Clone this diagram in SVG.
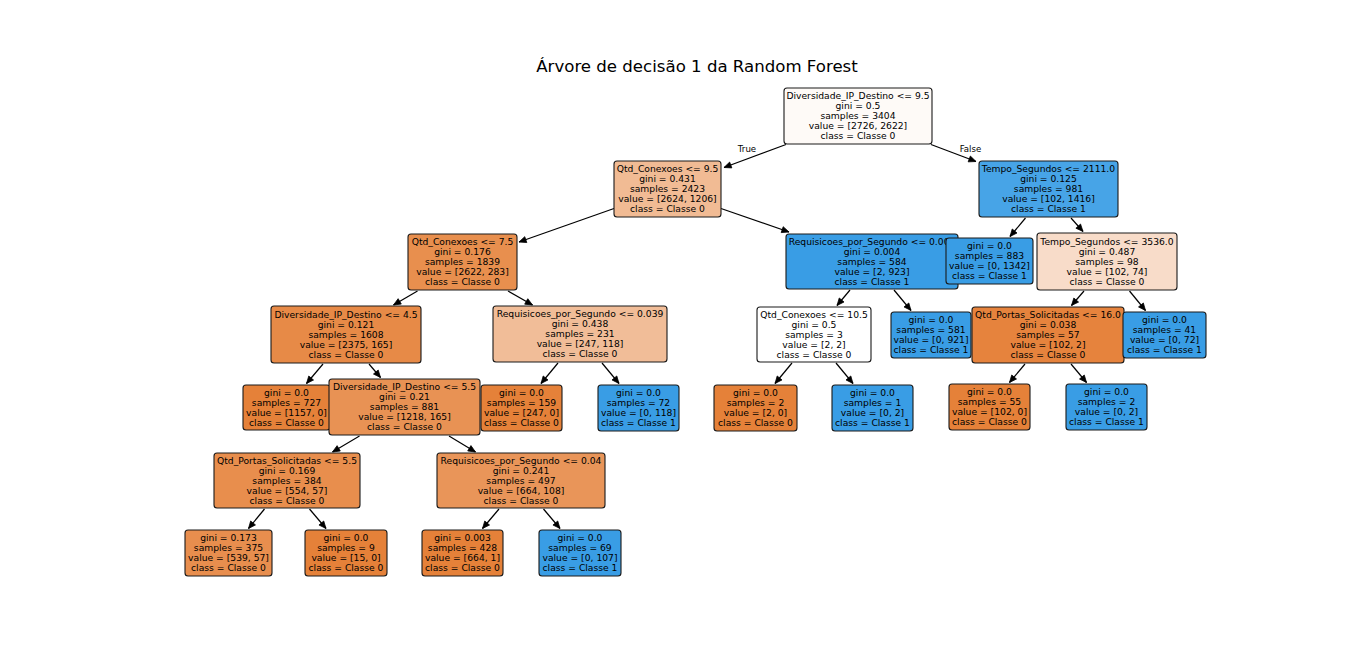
<svg xmlns="http://www.w3.org/2000/svg" width="1360" height="663" viewBox="0 0 1360 663">
<style>
.bg{fill:#ffffff}
.n rect{stroke:#1a1a1a;stroke-width:1.1}
.n text{font-family:"DejaVu Sans",sans-serif;font-size:9.2px;fill:#000;text-anchor:middle}
.e line{stroke:#000;stroke-width:1.2;marker-end:url(#ah)}
.lbl{font-family:"DejaVu Sans",sans-serif;font-size:8.6px;fill:#000;text-anchor:middle}
.title{font-family:"DejaVu Sans",sans-serif;font-size:16.6px;fill:#000;text-anchor:middle}
.o{fill:#e58139}.b{fill:#399de5}
</style>
<defs>
<marker id="ah" markerUnits="userSpaceOnUse" markerWidth="12" markerHeight="12" viewBox="-8 -5 10 10" refX="0" refY="0" orient="auto">
<path d="M-6,-2.6 L0,0 L-6,2.6 Z" fill="#000" stroke="#000" stroke-width="0.6" stroke-linejoin="miter"/>
</marker>
</defs>
<rect class="bg" x="0" y="0" width="1360" height="663"/>
<text class="title" x="697" y="71.5">Árvore de decisão 1 da Random Forest</text>
<g id="connectors" class="e">
<line x1="786" y1="144.5" x2="724" y2="167.5"/>
<line x1="931" y1="144.5" x2="976" y2="161.5"/>
<line x1="614" y1="208.5" x2="519" y2="242"/>
<line x1="721" y1="208.5" x2="789" y2="232"/>
<line x1="1025.5" y1="218" x2="1010" y2="236.5"/>
<line x1="1071" y1="218" x2="1083" y2="231.5"/>
<line x1="417.5" y1="291" x2="393.5" y2="305"/>
<line x1="508" y1="291" x2="532.5" y2="305"/>
<line x1="850" y1="290" x2="837" y2="305.5"/>
<line x1="894" y1="290" x2="911" y2="310.5"/>
<line x1="1084" y1="291" x2="1071.5" y2="305.5"/>
<line x1="1129.5" y1="291" x2="1145.5" y2="310.5"/>
<line x1="323" y1="364" x2="306.5" y2="383.5"/>
<line x1="369" y1="364" x2="380.5" y2="377.5"/>
<line x1="558" y1="363" x2="541" y2="383.5"/>
<line x1="602" y1="363" x2="619" y2="383.5"/>
<line x1="792" y1="363" x2="775" y2="383.5"/>
<line x1="836" y1="363" x2="853" y2="383.5"/>
<line x1="1025" y1="364" x2="1009.5" y2="382.5"/>
<line x1="1071" y1="364" x2="1086.5" y2="382.5"/>
<line x1="359.5" y1="436" x2="332.5" y2="452"/>
<line x1="449" y1="436" x2="475.5" y2="452"/>
<line x1="264.5" y1="509" x2="248.5" y2="528.5"/>
<line x1="309.5" y1="509" x2="326" y2="528.5"/>
<line x1="499" y1="509" x2="482.5" y2="528.5"/>
<line x1="543.5" y1="509" x2="560" y2="528.5"/>
</g>
<text class="lbl" x="747" y="152">True</text>
<text class="lbl" x="970.5" y="152">False</text>
<g id="n1" class="n"><rect x="784" y="88" width="148" height="56" rx="3" fill="#fefaf7"/><text><tspan x="858" y="99">Diversidade_IP_Destino &lt;= 9.5</tspan><tspan x="858" y="109">gini = 0.5</tspan><tspan x="858" y="119">samples = 3404</tspan><tspan x="858" y="129">value = [2726, 2622]</tspan><tspan x="858" y="139">class = Classe 0</tspan></text></g>
<g id="n2" class="n"><rect x="614" y="161" width="107" height="56" rx="3" fill="#f1bb94"/><text><tspan x="667.5" y="172">Qtd_Conexoes &lt;= 9.5</tspan><tspan x="667.5" y="182">gini = 0.431</tspan><tspan x="667.5" y="192">samples = 2423</tspan><tspan x="667.5" y="202">value = [2624, 1206]</tspan><tspan x="667.5" y="212">class = Classe 0</tspan></text></g>
<g id="n4" class="n"><rect x="408" y="234" width="109" height="56" rx="3" fill="#e88f4e"/><text><tspan x="462.5" y="245">Qtd_Conexoes &lt;= 7.5</tspan><tspan x="462.5" y="255">gini = 0.176</tspan><tspan x="462.5" y="265">samples = 1839</tspan><tspan x="462.5" y="275">value = [2622, 283]</tspan><tspan x="462.5" y="285">class = Classe 0</tspan></text></g>
<g id="n8" class="n"><rect x="271" y="306" width="150" height="57" rx="3" fill="#e78a47"/><text><tspan x="346" y="317.5">Diversidade_IP_Destino &lt;= 4.5</tspan><tspan x="346" y="327.5">gini = 0.121</tspan><tspan x="346" y="337.5">samples = 1608</tspan><tspan x="346" y="347.5">value = [2375, 165]</tspan><tspan x="346" y="357.5">class = Classe 0</tspan></text></g>
<g id="n14" class="n"><rect x="243" y="385" width="87" height="45" rx="3" class="o"/><text><tspan x="286.5" y="395.8">gini = 0.0</tspan><tspan x="286.5" y="405.8">samples = 727</tspan><tspan x="286.5" y="415.8">value = [1157, 0]</tspan><tspan x="286.5" y="425.8">class = Classe 0</tspan></text></g>
<g id="n15" class="n"><rect x="329" y="379" width="151" height="56" rx="3" fill="#e89254"/><text><tspan x="404.5" y="390">Diversidade_IP_Destino &lt;= 5.5</tspan><tspan x="404.5" y="400">gini = 0.21</tspan><tspan x="404.5" y="410">samples = 881</tspan><tspan x="404.5" y="420">value = [1218, 165]</tspan><tspan x="404.5" y="430">class = Classe 0</tspan></text></g>
<g id="n22" class="n"><rect x="214" y="453" width="146" height="55" rx="3" fill="#e88e4d"/><text><tspan x="287" y="463.8">Qtd_Portas_Solicitadas &lt;= 5.5</tspan><tspan x="287" y="473.8">gini = 0.169</tspan><tspan x="287" y="483.8">samples = 384</tspan><tspan x="287" y="493.8">value = [554, 57]</tspan><tspan x="287" y="503.8">class = Classe 0</tspan></text></g>
<g id="n24" class="n"><rect x="185" y="530" width="87" height="46" rx="3" fill="#e88e4e"/><text><tspan x="228.5" y="541.3">gini = 0.173</tspan><tspan x="228.5" y="551.3">samples = 375</tspan><tspan x="228.5" y="561.3">value = [539, 57]</tspan><tspan x="228.5" y="571.3">class = Classe 0</tspan></text></g>
<g id="n25" class="n"><rect x="305" y="530" width="82" height="46" rx="3" class="o"/><text><tspan x="346" y="541.3">gini = 0.0</tspan><tspan x="346" y="551.3">samples = 9</tspan><tspan x="346" y="561.3">value = [15, 0]</tspan><tspan x="346" y="571.3">class = Classe 0</tspan></text></g>
<g id="n23" class="n"><rect x="437" y="453" width="168" height="55" rx="3" fill="#e99559"/><text><tspan x="521" y="463.8">Requisicoes_por_Segundo &lt;= 0.04</tspan><tspan x="521" y="473.8">gini = 0.241</tspan><tspan x="521" y="483.8">samples = 497</tspan><tspan x="521" y="493.8">value = [664, 108]</tspan><tspan x="521" y="503.8">class = Classe 0</tspan></text></g>
<g id="n26" class="n"><rect x="422" y="530" width="81" height="46" rx="3" class="o"/><text><tspan x="462.5" y="541.3">gini = 0.003</tspan><tspan x="462.5" y="551.3">samples = 428</tspan><tspan x="462.5" y="561.3">value = [664, 1]</tspan><tspan x="462.5" y="571.3">class = Classe 0</tspan></text></g>
<g id="n27" class="n"><rect x="539" y="530" width="82" height="46" rx="3" class="b"/><text><tspan x="580" y="541.3">gini = 0.0</tspan><tspan x="580" y="551.3">samples = 69</tspan><tspan x="580" y="561.3">value = [0, 107]</tspan><tspan x="580" y="571.3">class = Classe 1</tspan></text></g>
<g id="n9" class="n"><rect x="493" y="306" width="174" height="56" rx="3" fill="#f1bd98"/><text><tspan x="580" y="317">Requisicoes_por_Segundo &lt;= 0.039</tspan><tspan x="580" y="327">gini = 0.438</tspan><tspan x="580" y="337">samples = 231</tspan><tspan x="580" y="347">value = [247, 118]</tspan><tspan x="580" y="357">class = Classe 0</tspan></text></g>
<g id="n16" class="n"><rect x="481" y="385" width="81" height="46" rx="3" class="o"/><text><tspan x="521.5" y="396.3">gini = 0.0</tspan><tspan x="521.5" y="406.3">samples = 159</tspan><tspan x="521.5" y="416.3">value = [247, 0]</tspan><tspan x="521.5" y="426.3">class = Classe 0</tspan></text></g>
<g id="n17" class="n"><rect x="598" y="385" width="81" height="46" rx="3" class="b"/><text><tspan x="638.5" y="396.3">gini = 0.0</tspan><tspan x="638.5" y="406.3">samples = 72</tspan><tspan x="638.5" y="416.3">value = [0, 118]</tspan><tspan x="638.5" y="426.3">class = Classe 1</tspan></text></g>
<g id="n5" class="n"><rect x="786" y="234" width="172" height="55" rx="3" class="b"/><text><tspan x="872" y="244.8">Requisicoes_por_Segundo &lt;= 0.003</tspan><tspan x="872" y="254.8">gini = 0.004</tspan><tspan x="872" y="264.8">samples = 584</tspan><tspan x="872" y="274.8">value = [2, 923]</tspan><tspan x="872" y="284.8">class = Classe 1</tspan></text></g>
<g id="n10" class="n"><rect x="757" y="307" width="114" height="55" rx="3" fill="#ffffff"/><text><tspan x="814" y="317.8">Qtd_Conexoes &lt;= 10.5</tspan><tspan x="814" y="327.8">gini = 0.5</tspan><tspan x="814" y="337.8">samples = 3</tspan><tspan x="814" y="347.8">value = [2, 2]</tspan><tspan x="814" y="357.8">class = Classe 0</tspan></text></g>
<g id="n18" class="n"><rect x="714" y="385" width="83" height="46" rx="3" class="o"/><text><tspan x="755.5" y="396.3">gini = 0.0</tspan><tspan x="755.5" y="406.3">samples = 2</tspan><tspan x="755.5" y="416.3">value = [2, 0]</tspan><tspan x="755.5" y="426.3">class = Classe 0</tspan></text></g>
<g id="n19" class="n"><rect x="832" y="385" width="81" height="46" rx="3" class="b"/><text><tspan x="872.5" y="396.3">gini = 0.0</tspan><tspan x="872.5" y="406.3">samples = 1</tspan><tspan x="872.5" y="416.3">value = [0, 2]</tspan><tspan x="872.5" y="426.3">class = Classe 1</tspan></text></g>
<g id="n11" class="n"><rect x="891" y="312" width="80" height="46" rx="3" class="b"/><text><tspan x="931" y="323.3">gini = 0.0</tspan><tspan x="931" y="333.3">samples = 581</tspan><tspan x="931" y="343.3">value = [0, 921]</tspan><tspan x="931" y="353.3">class = Classe 1</tspan></text></g>
<g id="n3" class="n"><rect x="979" y="161" width="139" height="56" rx="3" fill="#47a4e7"/><text><tspan x="1048.5" y="172">Tempo_Segundos &lt;= 2111.0</tspan><tspan x="1048.5" y="182">gini = 0.125</tspan><tspan x="1048.5" y="192">samples = 981</tspan><tspan x="1048.5" y="202">value = [102, 1416]</tspan><tspan x="1048.5" y="212">class = Classe 1</tspan></text></g>
<g id="n6" class="n"><rect x="946" y="238" width="87" height="46" rx="3" class="b"/><text><tspan x="989.5" y="249.3">gini = 0.0</tspan><tspan x="989.5" y="259.3">samples = 883</tspan><tspan x="989.5" y="269.3">value = [0, 1342]</tspan><tspan x="989.5" y="279.3">class = Classe 1</tspan></text></g>
<g id="n7" class="n"><rect x="1037" y="233" width="140" height="57" rx="3" fill="#f8dcc9"/><text><tspan x="1107" y="244.8">Tempo_Segundos &lt;= 3536.0</tspan><tspan x="1107" y="254.8">gini = 0.487</tspan><tspan x="1107" y="264.8">samples = 98</tspan><tspan x="1107" y="274.8">value = [102, 74]</tspan><tspan x="1107" y="284.8">class = Classe 0</tspan></text></g>
<g id="n12" class="n"><rect x="972" y="307" width="152" height="56" rx="3" fill="#e6833d"/><text><tspan x="1048" y="318">Qtd_Portas_Solicitadas &lt;= 16.0</tspan><tspan x="1048" y="328">gini = 0.038</tspan><tspan x="1048" y="338">samples = 57</tspan><tspan x="1048" y="348">value = [102, 2]</tspan><tspan x="1048" y="358">class = Classe 0</tspan></text></g>
<g id="n20" class="n"><rect x="949" y="384" width="81" height="46" rx="3" class="o"/><text><tspan x="989.5" y="395.3">gini = 0.0</tspan><tspan x="989.5" y="405.3">samples = 55</tspan><tspan x="989.5" y="415.3">value = [102, 0]</tspan><tspan x="989.5" y="425.3">class = Classe 0</tspan></text></g>
<g id="n21" class="n"><rect x="1066" y="384" width="81" height="46" rx="3" class="b"/><text><tspan x="1106.5" y="395.3">gini = 0.0</tspan><tspan x="1106.5" y="405.3">samples = 2</tspan><tspan x="1106.5" y="415.3">value = [0, 2]</tspan><tspan x="1106.5" y="425.3">class = Classe 1</tspan></text></g>
<g id="n13" class="n"><rect x="1123" y="312" width="83" height="46" rx="3" class="b"/><text><tspan x="1164.5" y="323.3">gini = 0.0</tspan><tspan x="1164.5" y="333.3">samples = 41</tspan><tspan x="1164.5" y="343.3">value = [0, 72]</tspan><tspan x="1164.5" y="353.3">class = Classe 1</tspan></text></g>
</svg>
